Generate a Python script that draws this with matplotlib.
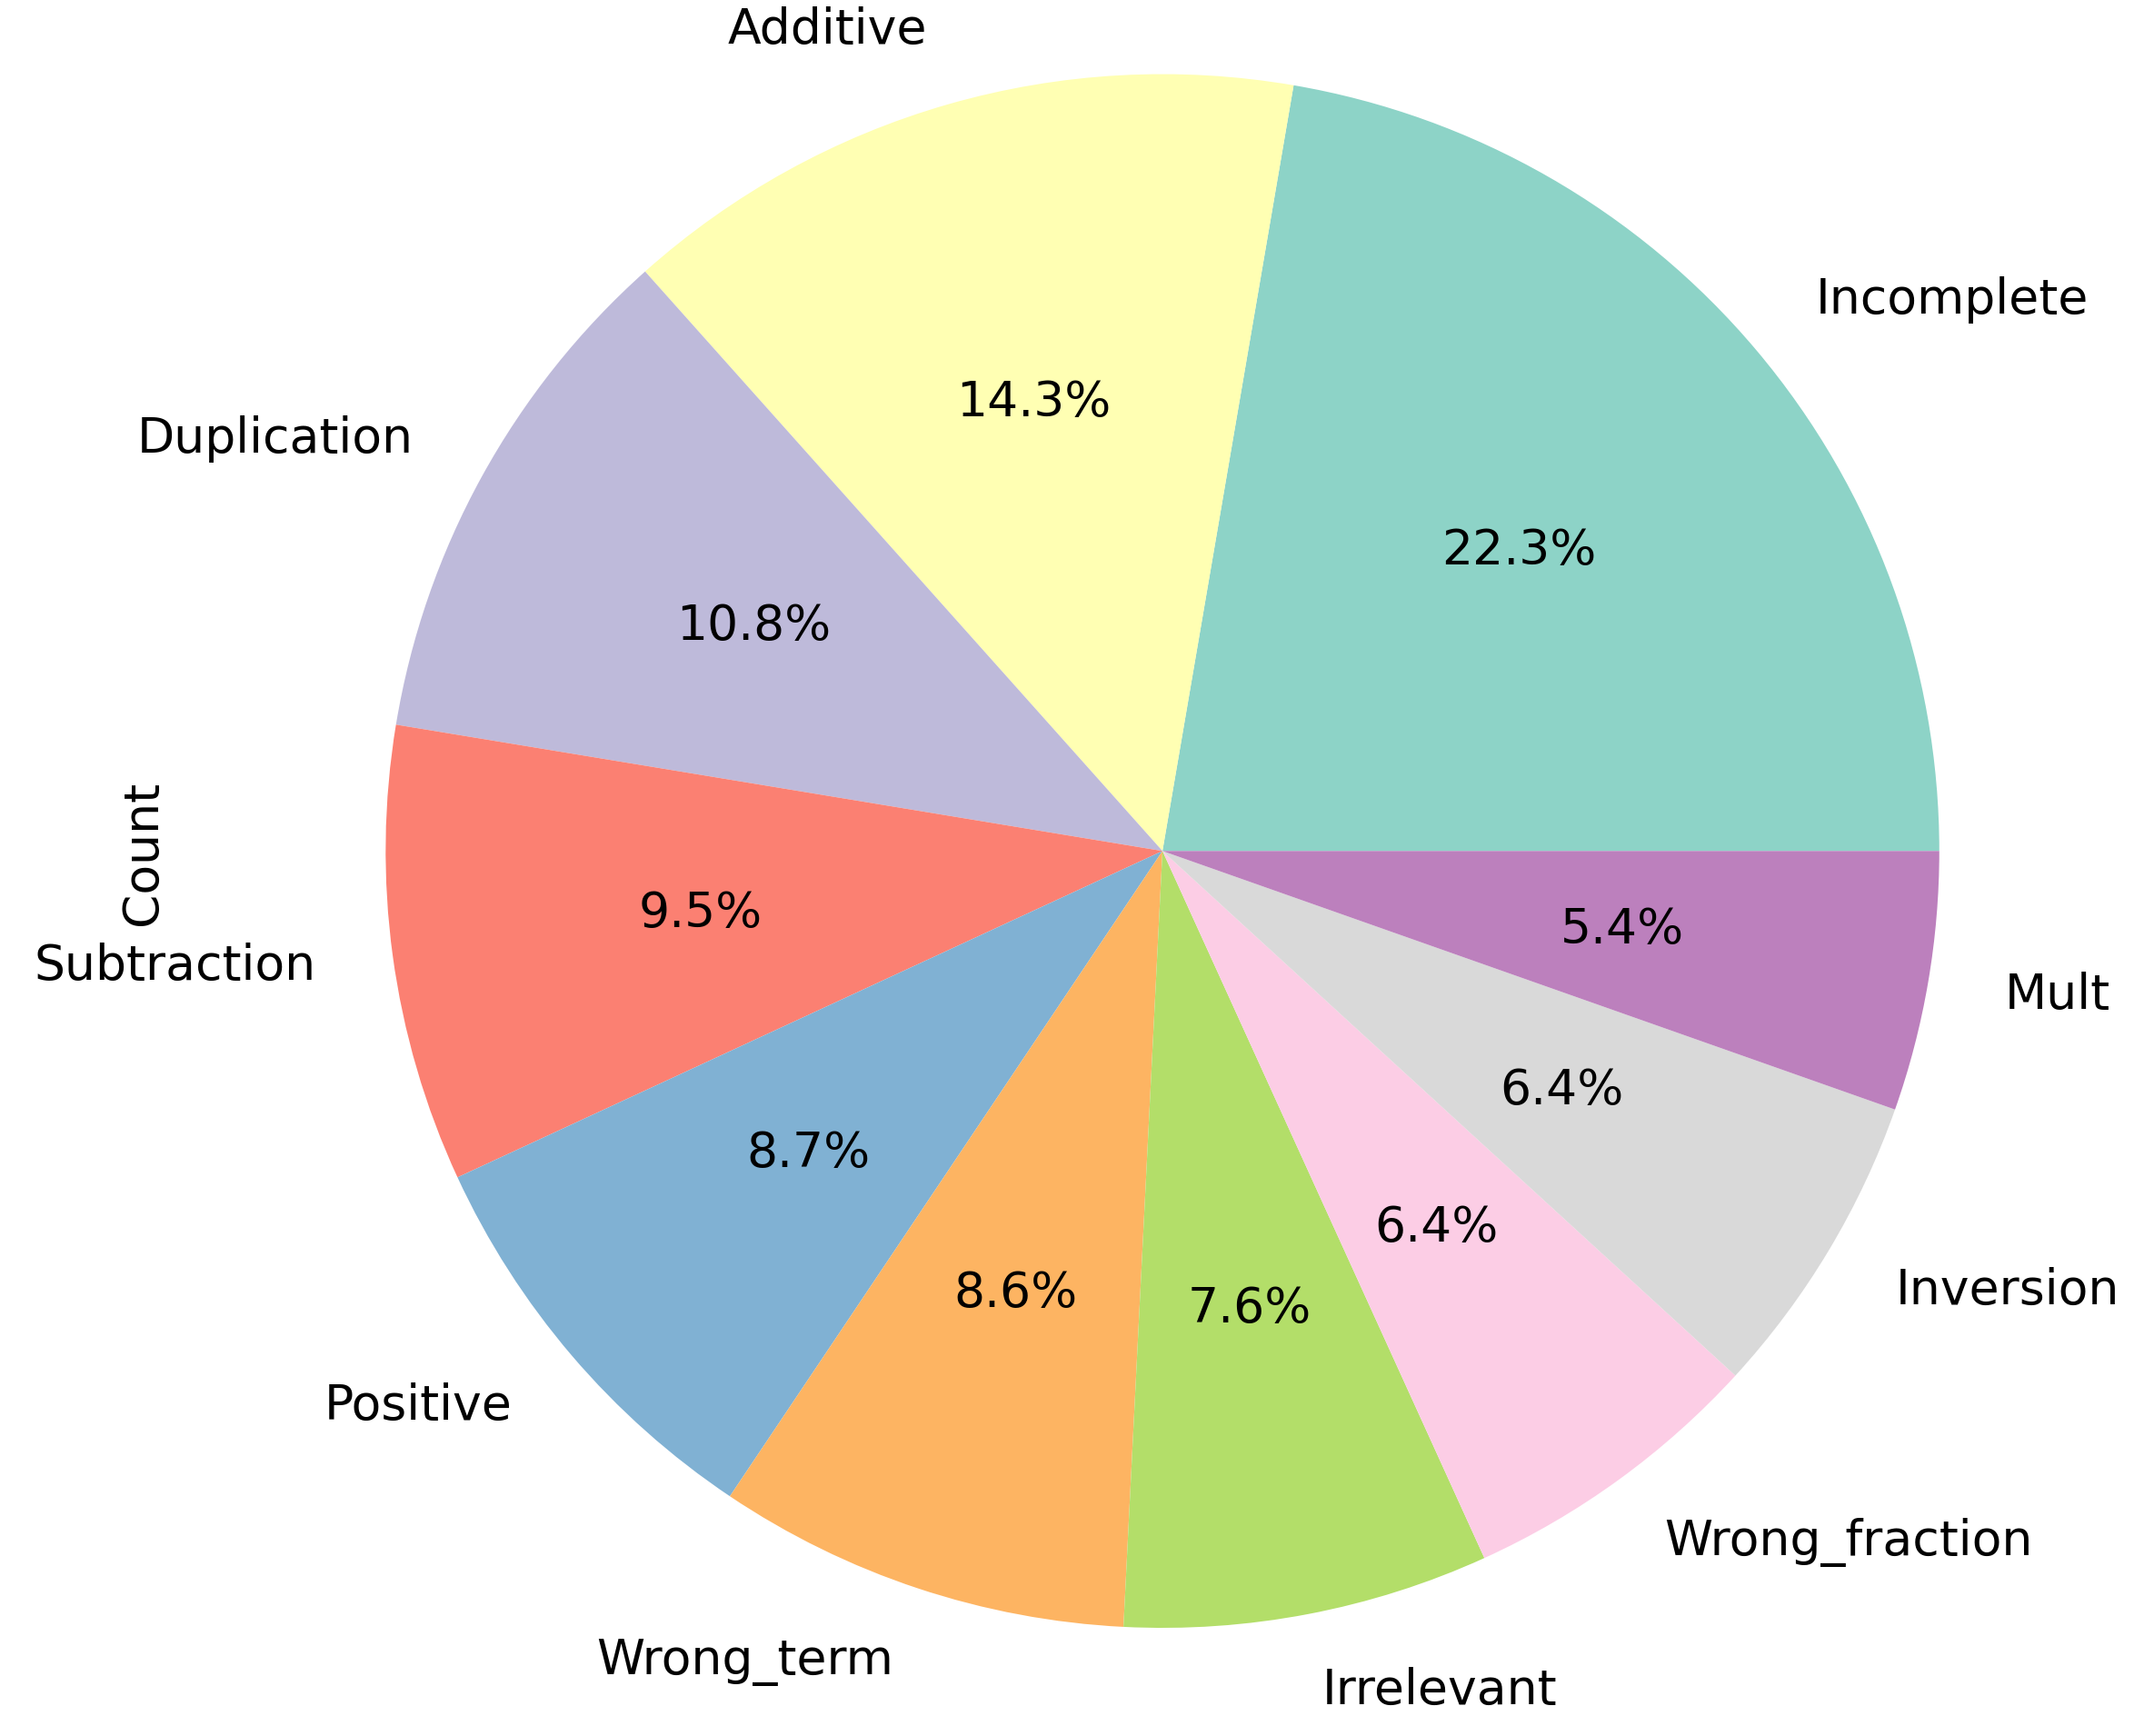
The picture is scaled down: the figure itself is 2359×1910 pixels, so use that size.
import matplotlib
matplotlib.use("Agg")
import matplotlib.pyplot as plt
import pandas as pd

categories = ['Incomplete', 'Additive', 'Duplication', 'Subtraction', 'Positive',
              'Wrong_term', 'Irrelevant', 'Wrong_fraction', 'Inversion', 'Mult']
counts = [223, 143, 108, 95, 87, 86, 76, 64, 64, 54]

s = pd.Series(counts, index=categories, name='Count')

plt.rcParams['font.size'] = 19.3

fig = plt.figure(figsize=(11.795, 9.55), dpi=200)
ax = fig.add_axes([0.1797, 0.0623, 0.725, 0.895])

colors = plt.get_cmap('Set3').colors[:len(categories)]
s.plot.pie(ax=ax, autopct='%1.1f%%', colors=colors)
ax.set_xlim(-1, 1)
ax.set_ylim(-1, 1)
ax.set_aspect('equal')
ax.set_ylabel('Count')
ax.yaxis.set_label_coords(-0.141, 0.499)

fig.savefig('out.png', dpi=200)
